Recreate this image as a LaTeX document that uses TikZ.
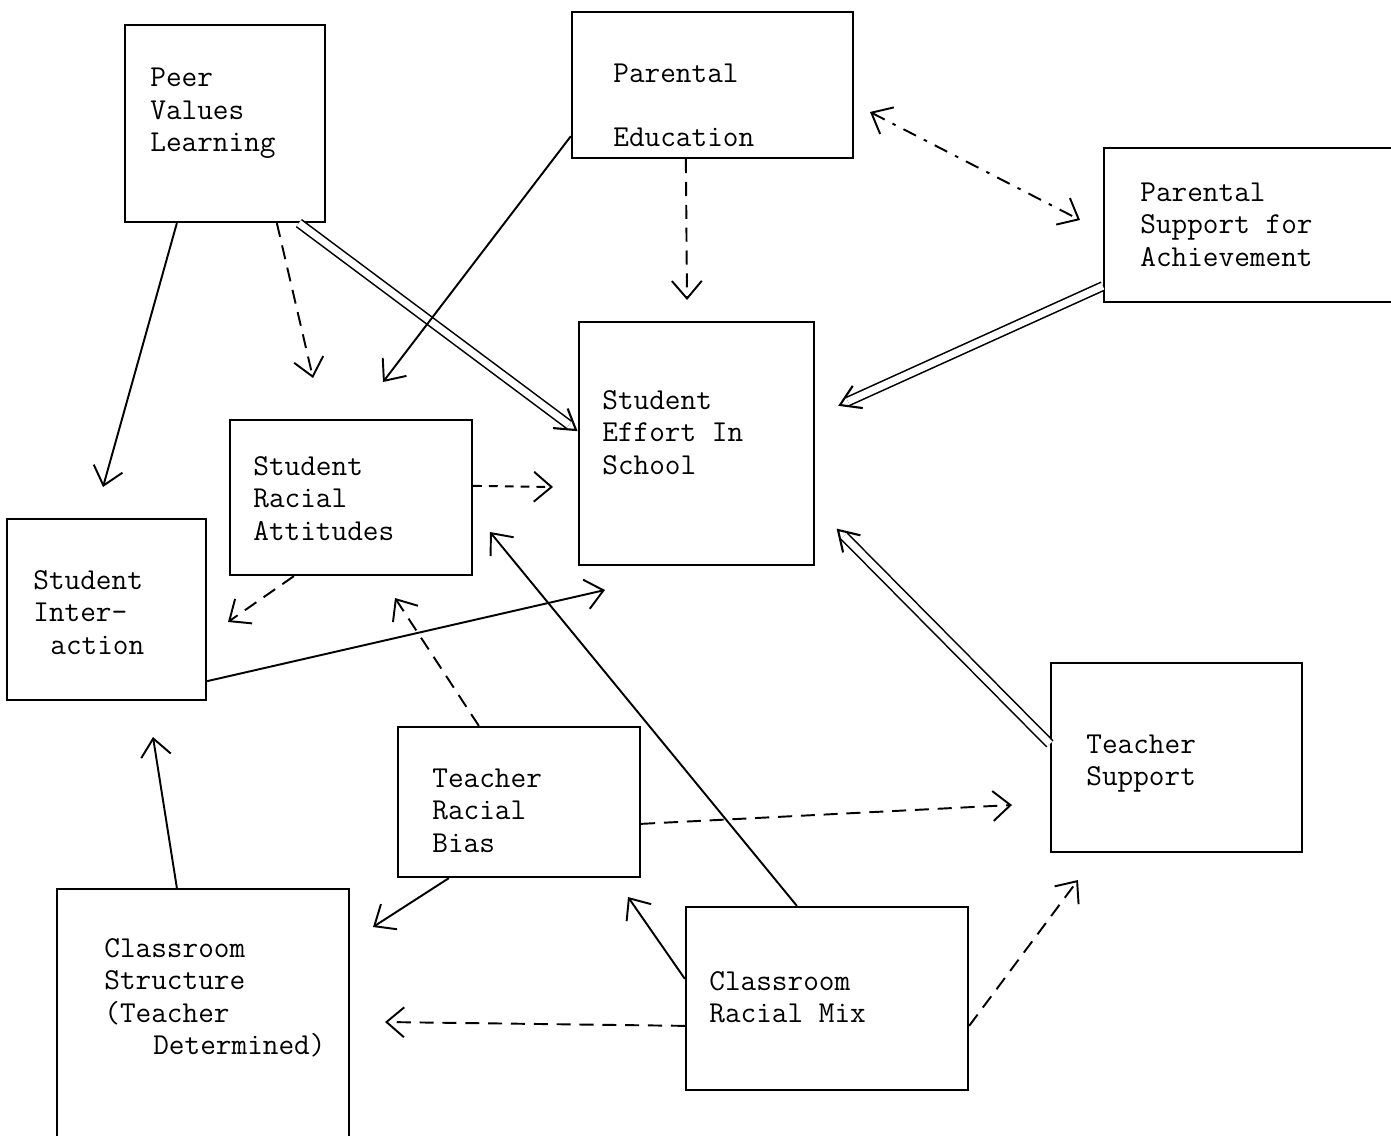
\documentclass[tikz,border=0pt]{standalone}
\usepackage{fontspec}
\usetikzlibrary{arrows.meta,calc}
\tikzset{
  flowbox/.style 2 args={draw, line width=1.3pt, rectangle, inner sep=0pt,
    minimum width=#1*0.02cm, minimum height=#2*0.02cm},
  lbl/.style={font=\ttfamily\fontsize{17.3}{20}\selectfont, inner sep=0pt, anchor=base west},
  conn/.style={line width=1.1pt, ->},
  dashconn/.style={conn, dash pattern=on 8pt off 5pt},
  dotconn/.style={conn, dash pattern=on 5pt off 4pt},
  dashdotconn/.style={line width=1.1pt, <->, dash pattern=on 8pt off 5pt on 2pt off 5pt},
  dblconn/.style={line width=0.9pt, double, double distance=4pt, shorten >=5pt},
  dblhead/.style={line width=1.2pt, line join=miter},
}
\newcommand\boxlines[4]{%
  \foreach \ln [count=\i] in {#4} {
    \node[lbl] (#1-\i) at (#2, {#3+32.5*(\i-1)}) {\ln};
  }}
\newcommand\dblarrow[2]{%
  \draw[dblconn] (#1) -- (#2);
  \draw[dblhead] ($(#2)!0.46cm!32:(#1)$) -- (#2) -- ($(#2)!0.46cm!-32:(#1)$);
}
\begin{document}
\begin{tikzpicture}[x=0.02cm, y=-0.02cm, >={Straight Barb[length=10pt,width=17pt]}]
\useasboundingbox (0,0) rectangle (1391,1135);
% boxes
\node[flowbox={200}{197}] (peer)   at (225,123.5) {};
\node[flowbox={281}{146}] (pared)  at (712.5,85) {};
\node[flowbox={291}{154}] (parsup) at (1249.5,225) {};
\node[flowbox={235}{243}] (effort) at (696.5,443.5) {};
\node[flowbox={242}{155}] (attit)  at (351,497.5) {};
\node[flowbox={199}{181}] (inter)  at (106.5,609.5) {};
\node[flowbox={242}{150}] (bias)   at (519,802) {};
\node[flowbox={251}{189}] (tsupp)  at (1176.5,757.5) {};
\node[flowbox={292}{249}] (struct) at (203,1013.5) {};
\node[flowbox={282}{183}] (mix)    at (827,998.5) {};
% texts
\boxlines{peert}{150}{87}{Peer,Values,Learning}
\node[lbl] (paredt-1) at (613,83) {Parental};
\node[lbl] (paredt-2) at (613,147) {Education};
\boxlines{parsupt}{1140}{201}{Parental,Support for,Achievement}
\boxlines{effortt}{602}{409}{Student,Effort In,School}
\boxlines{attitt}{253}{475}{Student,Racial,Attitudes}
\boxlines{intert}{33}{589}{Student,Inter-,\hspace*{0.34cm}action}
\boxlines{biast}{432}{787}{Teacher,Racial,Bias}
\boxlines{tsuppt}{1086}{753}{Teacher,Support}
\boxlines{structt}{104}{957}{Classroom,Structure,{{(Teacher}},{{\hspace*{0.98cm}Determined)}}}
\boxlines{mixt}{709}{990}{Classroom,Racial Mix}
% start points of the double connectors
\coordinate (s-peer-effort) at ($(peer.south west)+(175,0)$);
\coordinate (s-parsup-effort) at ($(parsup.south west)+(0,-17)$);
\coordinate (s-tsupp-effort) at ($(tsupp.north west)+(0,82)$);
% free arrow tips
\coordinate (t-peer-inter) at (103,487);
\coordinate (t-peer-attit) at (313,378);
\coordinate (t-peer-effort) at (576,430);
\coordinate (t-pared-attit) at (383,382);
\coordinate (t-pared-effort) at (687,300);
\coordinate (t-pp-a) at (870,112);
\coordinate (t-pp-b) at (1080,220);
\coordinate (t-parsup-effort) at (840,405);
\coordinate (t-attit-effort) at (553,487);
\coordinate (t-attit-inter) at (228,622);
\coordinate (t-inter-effort) at (605,590);
\coordinate (t-struct-inter) at (153,737);
\coordinate (t-bias-attit) at (395,598);
\coordinate (t-bias-struct) at (373,927);
\coordinate (t-bias-tsupp) at (1012,805);
\coordinate (t-tsupp-effort) at (838,530);
\coordinate (t-mix-attit) at (490,532);
\coordinate (t-mix-bias) at (628,897);
\coordinate (t-mix-struct) at (385,1022);
\coordinate (t-mix-tsupp) at (1078,880);
% connectors
\draw[conn] ($(peer.south west)+(53,0)$) -- (t-peer-inter);
\draw[dashconn] ($(peer.south west)+(153,0)$) -- (t-peer-attit);
\dblarrow{s-peer-effort}{t-peer-effort}
\draw[conn] ($(pared.south west)+(0,-23)$) -- (t-pared-attit);
\draw[dashconn] ($(pared.south west)+(115,0)$) -- (t-pared-effort);
\draw[dashdotconn] (t-pp-a) -- (t-pp-b);
\dblarrow{s-parsup-effort}{t-parsup-effort}
\draw[dotconn] ($(attit.north east)+(0,67)$) -- (t-attit-effort);
\draw[dashconn] ($(attit.south west)+(65,0)$) -- (t-attit-inter);
\draw[conn] ($(inter.south east)+(0,-20)$) -- (t-inter-effort);
\draw[conn] ($(struct.north west)+(121,0)$) -- (t-struct-inter);
\draw[dashconn] ($(bias.north west)+(82,0)$) -- (t-bias-attit);
\draw[conn] ($(bias.south west)+(52,0)$) -- (t-bias-struct);
\draw[dashconn] ($(bias.north east)+(0,98)$) -- (t-bias-tsupp);
\dblarrow{s-tsupp-effort}{t-tsupp-effort}
\draw[conn] ($(mix.north west)+(112,0)$) -- (t-mix-attit);
\draw[conn] ($(mix.north west)+(0,73)$) -- (t-mix-bias);
\draw[dashconn] ($(mix.north west)+(0,120)$) -- (t-mix-struct);
\draw[dashconn] ($(mix.north east)+(0,120)$) -- (t-mix-tsupp);
\end{tikzpicture}
\end{document}
